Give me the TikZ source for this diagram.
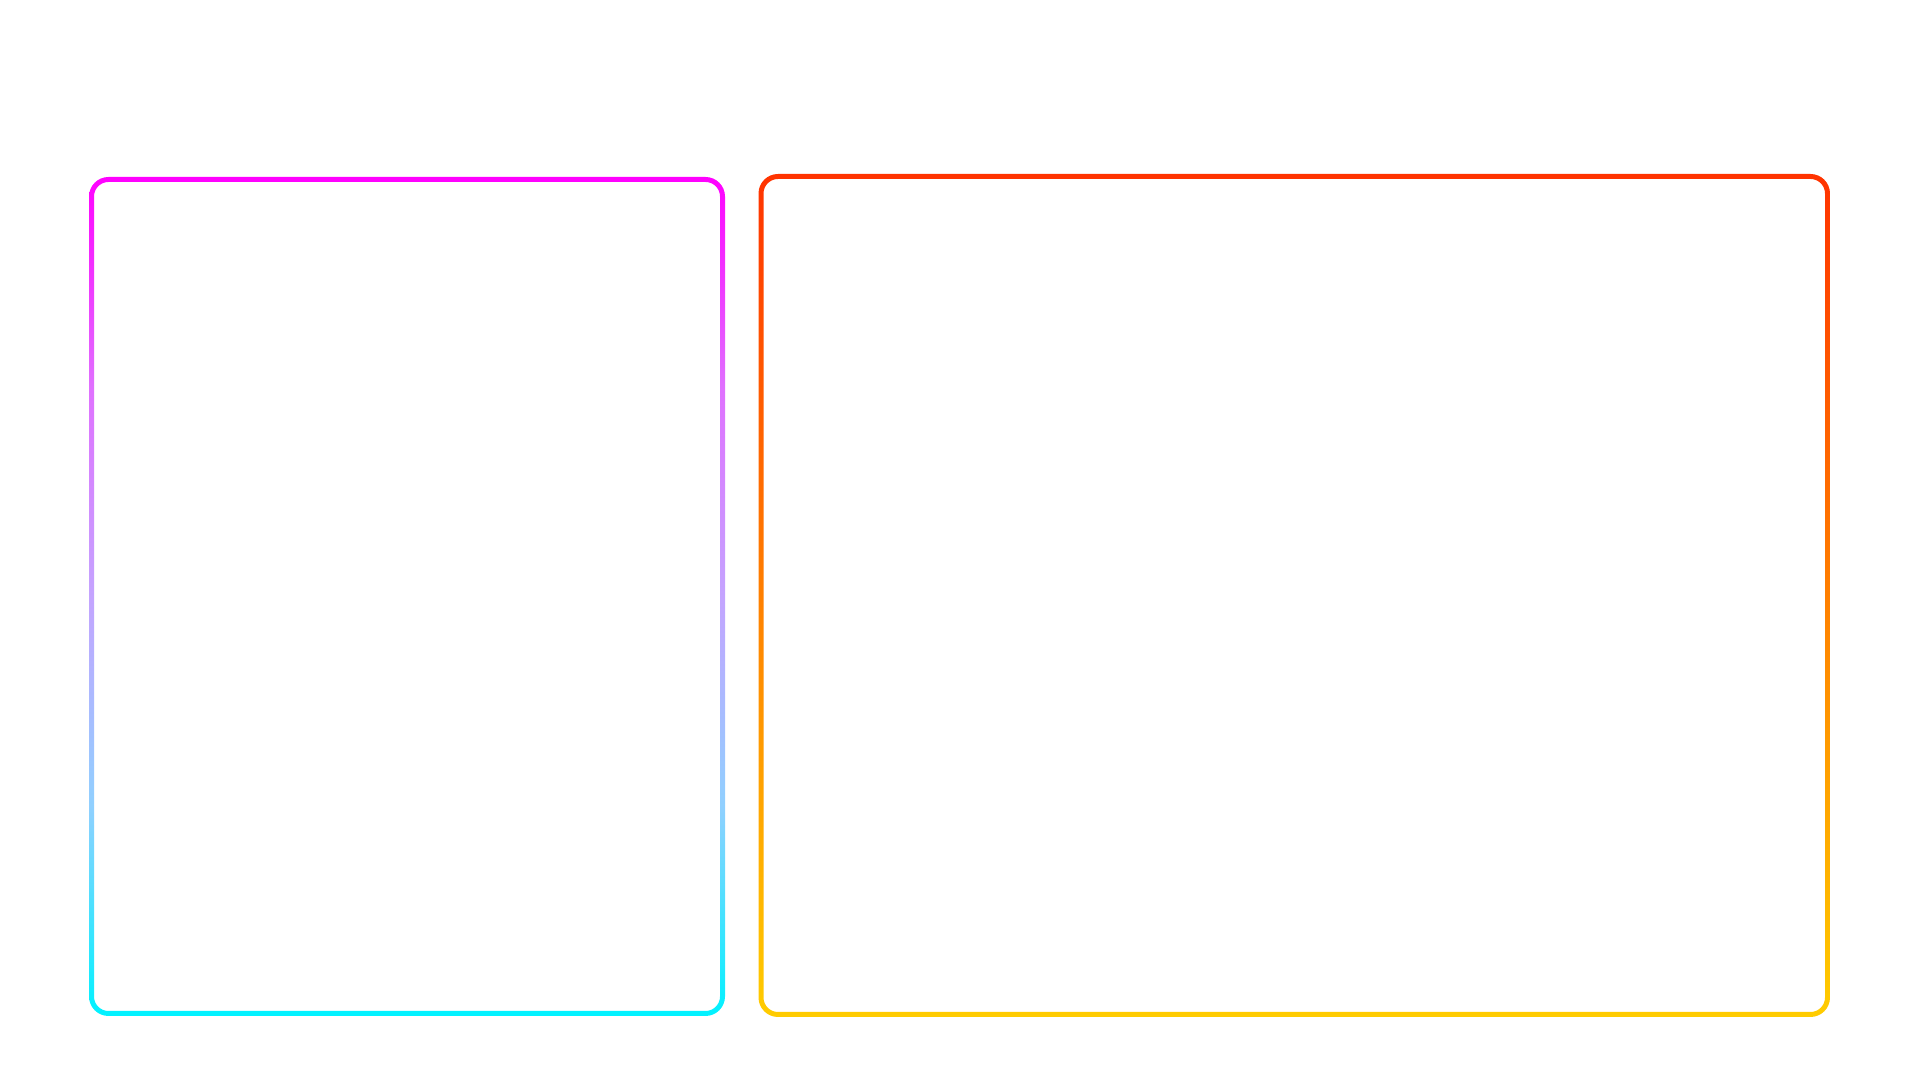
\documentclass[tikz,border=0pt]{standalone}

\definecolor{panelmagenta}{HTML}{FF00FF}
\definecolor{panelorchid}{HTML}{E070FF}
\definecolor{panellilac}{HTML}{C4A4FF}
\definecolor{panelsky}{HTML}{90D0FF}
\definecolor{panelcyan}{HTML}{00F2FF}
\definecolor{panelred}{HTML}{FF3300}
\definecolor{panelgold}{HTML}{FFCC00}

\pgfdeclareverticalshading{leftpanel}{100bp}{color(0bp)=(panelcyan); color(25bp)=(panelcyan); color(37.5bp)=(panelsky); color(50bp)=(panellilac); color(62.5bp)=(panelorchid); color(75bp)=(panelmagenta); color(100bp)=(panelmagenta)}

\begin{document}
\begin{tikzpicture}[x=0.01cm,y=-0.01cm]
	\useasboundingbox (0,0) rectangle (1920,1080);

	% left panel
	\shade[even odd rule, shading=leftpanel]
		[rounded corners=0.195cm] (89,177) rectangle (725,1016)
		[rounded corners=0.145cm] (94,182) rectangle (720,1011);

	% right panel
	\shade[even odd rule, top color=panelred, bottom color=panelgold]
		[rounded corners=0.195cm] (758.5,174) rectangle (1830,1017)
		[rounded corners=0.145cm] (763.5,179) rectangle (1825,1012);
\end{tikzpicture}
\end{document}
